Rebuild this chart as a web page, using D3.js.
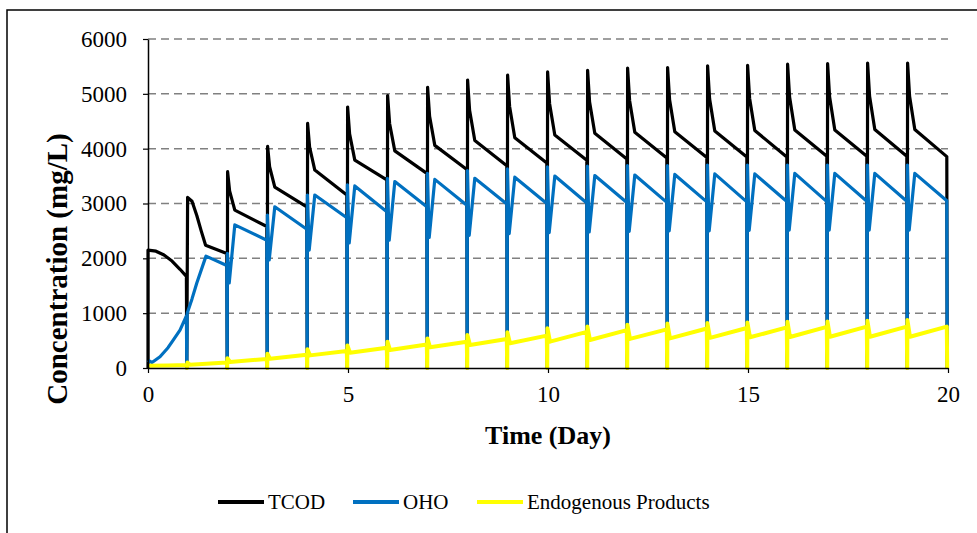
<!DOCTYPE html>
<html>
<head>
<meta charset="utf-8">
<script src="https://cdn.jsdelivr.net/npm/d3@7"></script>
<style>
  body { margin: 0; background: #fff; }
  svg text { font-family: "Liberation Serif", "Times New Roman", serif; }
</style>
</head>
<body>
<div id="chart"></div>
<script>
const WIDTH = 977;
const HEIGHT = 533;

// first day and a half, read as free curves [day, mg/L]
const tcodStart = [[0, 0], [0, 2150], [0.2, 2130], [0.4, 2060], [0.6, 1950], [0.8, 1800], [0.96, 1670],
                   [0.97, 0], [0.99, 3110], [1.1, 3040], [1.22, 2780], [1.33, 2500], [1.44, 2240], [1.97, 2090]];
const ohoStart = [[0, 145], [0.1, 100], [0.3, 205], [0.5, 370], [0.63, 510], [0.8, 690], [0.96, 950],
                  [0.97, 0], [0.98, 1000], [1.1, 1260], [1.22, 1550], [1.45, 2040], [1.97, 1870]];
const endoStart = [[0, 40], [0.5, 45], [0.97, 55]];

// feed cycles, one value per day
const cycleDays = [2, 3, 4, 5, 6, 7, 8, 9, 10, 11, 12, 13, 14, 15, 16, 17, 18, 19];
const tcodPeak = [3580, 4040, 4460, 4760, 4970, 5120, 5250, 5340, 5400, 5430, 5470, 5480, 5510, 5520, 5540, 5550, 5560, 5560];
const tcodMid  = [3230, 3670, 4030, 4270, 4460, 4590, 4700, 4770, 4820, 4850, 4880, 4890, 4910, 4920, 4940, 4945, 4955, 4955];
const tcodKnee = [2880, 3300, 3610, 3790, 3960, 4060, 4150, 4200, 4250, 4280, 4300, 4310, 4320, 4330, 4340, 4340, 4350, 4350];
const tcodEnd  = [2580, 2940, 3155, 3430, 3550, 3620, 3690, 3740, 3790, 3810, 3830, 3840, 3850, 3850, 3860, 3860, 3860, 3855];

const ohoTop  = [2090, 2790, 3155, 3340, 3460, 3550, 3600, 3630, 3670, 3680, 3690, 3690, 3700, 3700, 3700, 3700, 3700, 3700];
const ohoDip  = [1550, 1970, 2150, 2280, 2330, 2380, 2420, 2450, 2470, 2480, 2490, 2500, 2500, 2510, 2515, 2515, 2515, 2515];
const ohoPeak = [2610, 2940, 3155, 3320, 3400, 3440, 3460, 3480, 3500, 3510, 3520, 3530, 3540, 3540, 3550, 3550, 3550, 3550];
const ohoEnd  = [2330, 2530, 2740, 2850, 2940, 2970, 2990, 3000, 3010, 3020, 3020, 3030, 3030, 3035, 3035, 3040, 3040, 3050];

const endoDays = [1, 2, 3, 4, 5, 6, 7, 8, 9, 10, 11, 12, 13, 14, 15, 16, 17, 18, 19];
const endoTop  = [100, 180, 260, 340, 410, 480, 540, 600, 650, 725, 755, 790, 810, 820, 830, 845, 850, 860, 875];
const endoDrop = [60, 110, 170, 230, 280, 330, 380, 420, 450, 480, 510, 530, 540, 550, 560, 565, 570, 570, 570];
const endoEnd  = [100, 165, 240, 310, 370, 430, 480, 530, 590, 660, 690, 705, 720, 730, 740, 750, 755, 755, 755];

const yTicks = [0, 1000, 2000, 3000, 4000, 5000, 6000];
const xTicks = [0, 5, 10, 15, 20];
const seriesNames = ["TCOD", "OHO", "Endogenous Products"];
const seriesColors = ["#000000", "#0070C0", "#FFFF00"];

// build point lists
var tcodPts = tcodStart.slice();
cycleDays.forEach((d, i) => {
    tcodPts.push([d - 0.02, 0], [d - 0.01, tcodPeak[i]], [d + 0.04, tcodMid[i]], [d + 0.17, tcodKnee[i]], [d + 0.97, tcodEnd[i]]);
});
tcodPts.push([19.98, 0]);

var ohoPts = ohoStart.slice();
cycleDays.forEach((d, i) => {
    ohoPts.push([d - 0.02, 0], [d - 0.015, ohoTop[i]], [d + 0.03, ohoDip[i]], [d + 0.17, ohoPeak[i]], [d + 0.97, ohoEnd[i]]);
});
ohoPts.push([19.98, 0]);

var endoPts = endoStart.slice();
endoDays.forEach((d, i) => {
    endoPts.push([d - 0.02, 0], [d - 0.015, endoTop[i]], [d + 0.05, endoDrop[i]], [d + 0.97, endoEnd[i]]);
});
endoPts.push([19.98, 0]);

const allSeries = [tcodPts, ohoPts, endoPts];

const margin = {left: 148, top: 39, right: 29, bottom: 165};

const svg = d3.select("#chart")
                .append("svg")
                .attr("width", WIDTH)
                .attr("height", HEIGHT);

// outer frame
svg.append("rect")
    .attr("x", 7).attr("y", 10)
    .attr("width", 1100).attr("height", 700)
    .attr("fill", "none")
    .attr("stroke", "#000")
    .attr("stroke-width", 1.5);

const x = d3.scaleLinear().domain([0, 20]).range([margin.left, WIDTH - margin.right]);
const y = d3.scaleLinear().domain([0, 6000]).range([HEIGHT - margin.bottom, margin.top]);

// grid
svg.append("g")
    .selectAll("line").data(yTicks.slice(1))
    .enter().append("line")
    .attr("x1", x(0)).attr("x2", x(20))
    .attr("y1", d => y(d)).attr("y2", d => y(d))
    .attr("stroke", "#808080")
    .attr("stroke-width", 1.5)
    .attr("stroke-dasharray", "8,5");

// series
const line = d3.line().x(d => x(d[0])).y(d => y(d[1]));

svg.append("g")
    .selectAll("path").data(allSeries)
    .enter().append("path")
    .attr("d", line)
    .attr("fill", "none")
    .attr("stroke", (d, i) => seriesColors[i])
    .attr("stroke-width", (d, i) => i == 2 ? 4 : 3.2)
    .attr("stroke-linejoin", "round");

// axes
const yAxis = svg.append("g")
    .attr("transform", `translate(${x(0)}, 0)`)
    .call(d3.axisLeft(y).tickValues(yTicks).tickFormat(d3.format("d"))
            .tickSize(5).tickSizeOuter(0).tickPadding(16));

const xAxis = svg.append("g")
    .attr("transform", `translate(0, ${y(0)})`)
    .call(d3.axisBottom(x).tickValues(xTicks).tickFormat(d3.format("d"))
            .tickSize(5).tickSizeOuter(0).tickPadding(13));

[yAxis, xAxis].forEach(a => {
    a.attr("font-family", "'Liberation Serif', serif");
    a.select(".domain").attr("stroke", "#000").attr("stroke-width", 1.5);
    a.selectAll(".tick line").attr("stroke", "#000").attr("stroke-width", 1.2);
    a.selectAll(".tick text")
        .attr("fill", "#000")
        .style("font-size", "23px");
});

// titles
svg.append("text")
    .attr("x", (x(0) + x(20)) / 2)
    .attr("y", 444)
    .attr("text-anchor", "middle")
    .style("font-weight", "bold")
    .style("font-size", "26px")
    .text("Time (Day)");

svg.append("text")
    .attr("transform", `translate(67, 269) rotate(-90)`)
    .attr("text-anchor", "middle")
    .style("font-weight", "bold")
    .style("font-size", "29px")
    .text("Concentration (mg/L)");

// legend
const legendX = [218, 353, 477];
const legend = svg.append("g").attr("class", "legend");

legend.selectAll("line").data(seriesNames)
    .enter().append("line")
    .attr("x1", (d, i) => legendX[i]).attr("x2", (d, i) => legendX[i] + 46)
    .attr("y1", 502).attr("y2", 502)
    .attr("stroke", (d, i) => seriesColors[i])
    .attr("stroke-width", 4);

legend.selectAll("text").data(seriesNames)
    .enter().append("text")
    .attr("x", (d, i) => legendX[i] + 50)
    .attr("y", 509)
    .style("font-size", "21px")
    .text(d => d);
</script>
</body>
</html>
